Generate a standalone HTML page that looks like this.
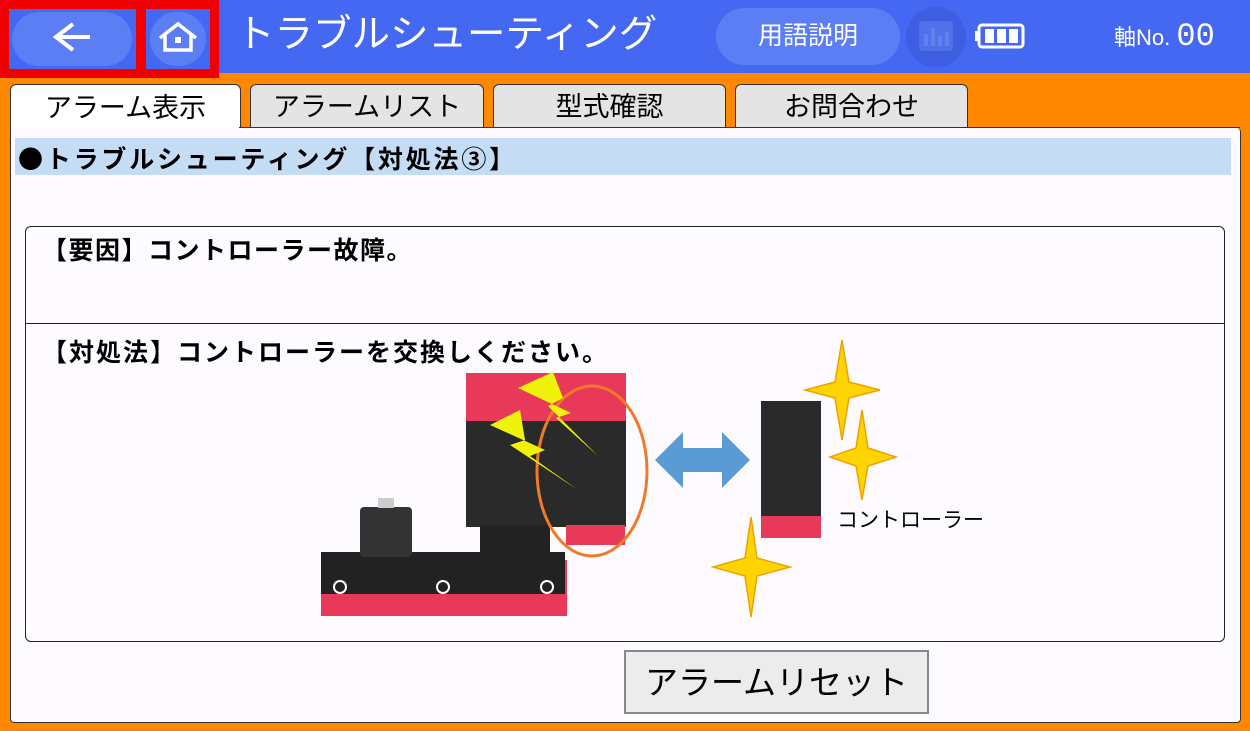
<!DOCTYPE html>
<html><head><meta charset="utf-8"><style>
body{margin:0;width:1250px;height:731px;background:#ff8800;position:relative;overflow:hidden;font-family:"Liberation Sans","Noto Sans CJK JP",sans-serif}
.a{position:absolute}
.j{font-family:"Noto Sans CJK JP",sans-serif}
</style></head><body>
<div class="a" style="left:0;top:0;width:1250px;height:73px;background:#4468f2"></div>
<div class="a" style="left:0;top:0;width:219px;height:78px;background:#f00000"></div>
<div class="a" style="left:9px;top:9px;width:127px;height:60px;background:#4468f2"></div>
<div class="a" style="left:146px;top:9px;width:64px;height:60px;background:#4468f2"></div>
<div class="a" style="left:12px;top:12px;width:120px;height:54px;border-radius:27px;background:#5c7ef4"></div>
<div class="a" style="left:150px;top:12px;width:56px;height:54px;border-radius:27px;background:#5c7ef4"></div>
<div class="a" style="left:906px;top:7px;width:60px;height:60px;border-radius:30px;background:#3d5ee0"></div>
<svg class="a" style="left:0;top:0" width="1250" height="73">
<path d="M73 24 L56 37 L73 50 M56 37 H90" stroke="#fff" stroke-width="4" fill="none"/>
<path d="M160 38 L178 24 L196 38 M165 35 V50 H191 V35" stroke="#fff" stroke-width="3.5" fill="none"/><rect x="175" y="37" width="6" height="6" fill="#fff"/>
<rect x="979" y="25" width="44" height="22" rx="3" stroke="#fff" stroke-width="3" fill="none"/><rect x="975" y="31" width="4" height="10" fill="#fff"/>
<rect x="985" y="29" width="9" height="14" fill="#fff"/><rect x="997" y="29" width="9" height="14" fill="#fff"/><rect x="1009" y="29" width="9" height="14" fill="#fff"/>
<rect x="919" y="21" width="34" height="30" rx="4" fill="#4f70ea"/>
<rect x="924" y="34" width="4" height="12" fill="#6080ee"/><rect x="931" y="28" width="4" height="18" fill="#6080ee"/><rect x="938" y="36" width="4" height="10" fill="#6080ee"/><rect x="945" y="32" width="4" height="14" fill="#6080ee"/>
</svg>
<div class="a" style="left:236px;top:10px;color:#fff;font-size:38.5px;line-height:50px">トラブルシューティング</div>
<div class="a" style="left:716px;top:8px;width:184px;height:57px;border-radius:29px;background:#5c7ef4;color:#fff;font-size:25px;line-height:57px;text-align:center">用語説明</div>
<div class="a" style="left:1114px;top:20px;color:#fff;font-size:22px;line-height:34px">軸No. <span style="font-size:32px;font-family:'Liberation Mono',monospace">00</span></div>
<div class="a" style="left:10px;top:84px;width:229px;height:50px;background:#fff;border:1px solid #333;border-bottom:none;border-radius:6px 6px 0 0;font-size:27px;text-align:center;line-height:46px">アラーム表示</div>
<div class="a" style="left:250px;top:84px;width:232px;height:42px;background:#e4e4e4;border:1px solid #333;border-radius:6px 6px 0 0;font-size:27px;text-align:center;line-height:44px">アラームリスト</div>
<div class="a" style="left:493px;top:84px;width:231px;height:42px;background:#e4e4e4;border:1px solid #333;border-radius:6px 6px 0 0;font-size:27px;text-align:center;line-height:44px">型式確認</div>
<div class="a" style="left:735px;top:84px;width:231px;height:42px;background:#e4e4e4;border:1px solid #333;border-radius:6px 6px 0 0;font-size:27px;text-align:center;line-height:44px">お問合わせ</div>
<div class="a" style="left:10px;top:128px;width:1229px;height:594px;background:#fdfbff;border:1px solid #333;border-top:none;border-radius:0 4px 4px 4px"></div>
<div class="a" style="left:239px;top:127px;width:1001px;height:1px;background:#333"></div>
<div class="a" style="left:15px;top:138px;width:1216px;height:37px;background:#c5dcf5;font-size:25px;font-weight:bold;line-height:40px;padding-left:3px;box-sizing:border-box;letter-spacing:2.8px"><span class="j">●</span>トラブルシューティング【対処法③】</div>
<div class="a" style="left:25px;top:226px;width:1198px;height:414px;border:1px solid #222;border-radius:6px;background:#fdfbff"></div>
<div class="a" style="left:26px;top:323px;width:1198px;height:1px;background:#222"></div>
<div class="a" style="left:42px;top:234px;font-size:25px;font-weight:bold;line-height:34px;letter-spacing:1.5px">【要因】コントローラー故障。</div>
<div class="a" style="left:42px;top:336px;font-size:25px;font-weight:bold;line-height:34px;letter-spacing:2px">【対処法】コントローラーを交換しください。</div>
<svg class="a" style="left:0;top:0" width="1250" height="731">
<rect x="321" y="560" width="246" height="56" fill="#e83a58"/>
<rect x="321" y="552" width="244" height="42" fill="#222"/>
<rect x="360" y="507" width="52" height="50" rx="4" fill="#333"/><rect x="378" y="498" width="16" height="10" fill="#ccc"/>
<circle cx="340" cy="587" r="6" fill="none" stroke="#fff" stroke-width="2"/><circle cx="443" cy="587" r="6" fill="none" stroke="#fff" stroke-width="2"/><circle cx="547" cy="587" r="6" fill="none" stroke="#fff" stroke-width="2"/>
<rect x="466" y="373" width="160" height="50" fill="#e83a58"/>
<rect x="466" y="421" width="160" height="106" fill="#2a2a2a"/>
<rect x="480" y="525" width="70" height="30" fill="#222"/>
<rect x="566" y="525" width="59" height="20" fill="#e83a58"/>
<ellipse cx="592" cy="471" rx="55" ry="85" fill="none" stroke="#ee7b2a" stroke-width="3"/>
<path d="M518 388 L553 372 L563 398 L548 406 L598 456 L556 418 L571 413 Z" fill="#f0f20a"/>
<path d="M490 425 L520 410 L525 440 L510 445 L578 490 L530 456 L545 450 Z" fill="#f0f20a"/>
<path d="M655 460 L683 432 L683 448 L722 448 L722 432 L750 460 L722 488 L722 472 L683 472 L683 488 Z" fill="#5b9bd5"/>
<rect x="761" y="401" width="60" height="117" fill="#2a2a2a"/>
<rect x="761" y="516" width="60" height="22" fill="#e83a58"/>
<g fill="#ffd400" stroke="#f0a000" stroke-width="1.5">
<path d="M842 340 L849 382 L880 390 L849 398 L842 440 L835 398 L805 390 L835 382 Z"/>
<path d="M862 410 L868 448 L896 457 L868 466 L862 500 L856 466 L830 457 L856 448 Z"/>
<path d="M751 517 L757 558 L790 567 L757 576 L751 617 L745 576 L713 567 L745 558 Z"/>
</g>
</svg>
<div class="a" style="left:837px;top:508px;font-size:21px;line-height:26px">コントローラー</div>
<div class="a" style="left:624px;top:650px;width:301px;height:60px;background:#ececec;border:2px solid #888;font-size:33px;line-height:62px;text-align:center">アラームリセット</div>
</body></html>
